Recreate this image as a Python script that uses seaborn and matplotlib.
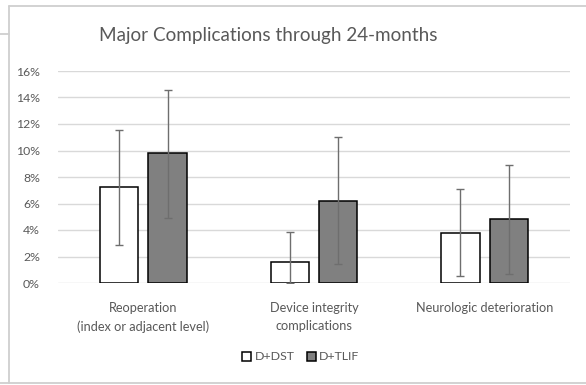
import matplotlib
matplotlib.use("Agg")
import matplotlib.pyplot as plt
from matplotlib.patches import Patch
from matplotlib.lines import Line2D
from matplotlib.ticker import PercentFormatter
import seaborn as sns
import pandas as pd

# Complication rates through 24 months with 95% confidence limits
categories = ["Reoperation\n(index or adjacent level)",
              "Device integrity\ncomplications",
              "Neurologic deterioration"]
groups = ["D+DST", "D+TLIF"]
dst_rate = [0.0727, 0.0160, 0.0380]
dst_low = [0.0290, 0.0000, 0.0050]
dst_high = [0.1155, 0.0385, 0.0707]
tlif_rate = [0.0980, 0.0620, 0.0480]
tlif_low = [0.0490, 0.0140, 0.0070]
tlif_high = [0.1460, 0.1100, 0.0890]
y_ticks = [0.0, 0.02, 0.04, 0.06, 0.08, 0.10, 0.12, 0.14, 0.16]
title = "Major Complications through 24-months"

df = pd.DataFrame({
    "category": categories * 2,
    "group": [groups[0]] * 3 + [groups[1]] * 3,
    "rate": dst_rate + tlif_rate,
    "low": dst_low + tlif_low,
    "high": dst_high + tlif_high,
})

sns.set_theme(style="white")
plt.rcParams["font.family"] = ["Lato", "DejaVu Sans"]

text_grey = "#595959"
grid_grey = "#d9d9d9"
fills = {"D+DST": "#ffffff", "D+TLIF": "#808080"}

fig = plt.figure(figsize=(5.86, 3.85), dpi=100)
ax = fig.add_axes([58 / 586, 1 - 283 / 385, 512 / 586, 212 / 385])

sns.barplot(data=df, x="category", y="rate", hue="group", hue_order=groups,
            palette=fills, edgecolor="black", linewidth=1.1, width=0.567,
            gap=0.21, errorbar=None, legend=False, ax=ax, zorder=3)

# Confidence-interval whiskers placed on the drawn bars
for container, grp in zip(ax.containers, groups):
    sub = df[df["group"] == grp]
    xs = [b.get_x() + b.get_width() / 2 for b in container]
    ys = sub["rate"].to_numpy()
    lo = ys - sub["low"].to_numpy()
    hi = sub["high"].to_numpy() - ys
    ax.errorbar(xs, ys, yerr=[lo, hi], fmt="none", ecolor="#6e6e6e",
                elinewidth=1.0, capsize=2.6, capthick=1.0, zorder=4)

ax.set_ylim(0, 0.16)
ax.set_xlim(-0.5, 2.5)
ax.set_yticks(y_ticks)
ax.yaxis.set_major_formatter(PercentFormatter(1.0, decimals=0))
ax.grid(axis="y", color=grid_grey, linewidth=1.0, zorder=0)
ax.grid(axis="x", visible=False)
for s in ax.spines.values():
    s.set_visible(False)
ax.tick_params(axis="y", length=0, pad=13, labelsize=8.8, labelcolor=text_grey)
ax.tick_params(axis="x", length=0, pad=14, labelsize=9.2, labelcolor=text_grey)
for lab in ax.get_xticklabels():
    lab.set_linespacing(1.55)
ax.set_xlabel("")
ax.set_ylabel("")

fig.text(268 / 586, 1 - 35 / 385, title, ha="center", va="center",
         fontsize=13.6, color=text_grey)

handles = [Patch(facecolor=fills[g], edgecolor="black", linewidth=1.1) for g in groups]
fig.legend(handles, groups, loc="center", bbox_to_anchor=(301 / 586, 1 - 357 / 385),
           ncol=2, frameon=False, fontsize=8.9, handlelength=0.7, handleheight=0.7,
           handletextpad=0.3, columnspacing=1.0, labelcolor=text_grey)

# Chart area border and neighbouring frame edges
border = "#cfcfcf"
fig.add_artist(Line2D([8.5 / 586, 8.5 / 586], [1 - 383 / 385, 1 - 5.5 / 385],
                      transform=fig.transFigure, color=border, linewidth=1.3))
fig.add_artist(Line2D([8.5 / 586, 1.0], [1 - 5.5 / 385, 1 - 5.5 / 385],
                      transform=fig.transFigure, color=border, linewidth=1.3))
fig.add_artist(Line2D([0, 1.0], [1 - 382.5 / 385, 1 - 382.5 / 385],
                      transform=fig.transFigure, color=border, linewidth=1.3))
fig.add_artist(Line2D([0, 8.5 / 586], [1 - 34 / 385, 1 - 34 / 385],
                      transform=fig.transFigure, color=border, linewidth=1.3))

fig.savefig("out.png", dpi=100, facecolor="white")
